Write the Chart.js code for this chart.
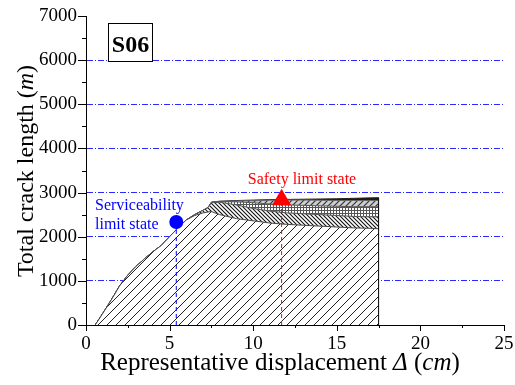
<!DOCTYPE html>
<html>
<head>
<meta charset="utf-8">
<script src="https://cdn.jsdelivr.net/npm/chart.js@4"></script>
<style>
  html, body { margin: 0; padding: 0; background: #fff; }
  canvas { display: block; }
</style>
</head>
<body>
<canvas id="c" width="515" height="385"></canvas>
<script>
// displacement (cm) shared by every layer
const dispX = [0.55, 1, 1.5, 2, 2.5, 3, 3.5, 4, 4.5, 5, 5.5, 6, 6.5, 7, 7.3, 7.5, 8, 9, 10, 11, 12, 13, 14, 15, 16, 17, 17.5];

// cumulative crack length (m), bottom layer first
const layer1 = [0, 260, 560, 880, 1130, 1330, 1500, 1660, 1800, 2000, 2200, 2380, 2480, 2540, 2560, 2570, 2500, 2410, 2360, 2310, 2280, 2260, 2240, 2220, 2200, 2190, 2180];
const layer2 = [0, 260, 560, 880, 1130, 1330, 1500, 1660, 1800, 2000, 2200, 2380, 2500, 2600, 2660, 2770, 2780, 2720, 2640, 2580, 2540, 2520, 2500, 2480, 2460, 2450, 2450];
const layer3 = [0, 260, 560, 880, 1130, 1330, 1500, 1660, 1800, 2000, 2200, 2380, 2500, 2600, 2660, 2775, 2795, 2790, 2770, 2740, 2720, 2710, 2700, 2690, 2680, 2680, 2680];
const layer4 = [0, 260, 560, 880, 1130, 1330, 1500, 1660, 1800, 2000, 2200, 2380, 2500, 2600, 2660, 2780, 2800, 2810, 2815, 2825, 2830, 2830, 2825, 2820, 2820, 2820, 2820];
const layer5 = [0, 260, 560, 880, 1130, 1330, 1500, 1660, 1800, 2000, 2200, 2380, 2500, 2600, 2660, 2785, 2805, 2820, 2830, 2840, 2845, 2850, 2855, 2860, 2870, 2880, 2885];

// limit states
const serviceability = { x: 5.4, y: 2335 };
const safety = { x: 11.7, y: 2840 };

const yTicks = [0, 1000, 2000, 3000, 4000, 5000, 6000, 7000];
const xTicks = [0, 5, 10, 15, 20, 25];

const serif = "'Liberation Serif', 'Times New Roman', serif";
const ctx = document.getElementById('c').getContext('2d');

function hatch(size, bg, fg, lw, draw) {
  const c = document.createElement('canvas');
  c.width = c.height = size;
  const g = c.getContext('2d');
  g.fillStyle = bg;
  g.fillRect(0, 0, size, size);
  g.strokeStyle = fg;
  g.fillStyle = fg;
  g.lineWidth = lw;
  g.beginPath();
  draw(g, size);
  g.stroke();
  return ctx.createPattern(c, 'repeat');
}
const fwd = (g, s) => {
  g.moveTo(0, s); g.lineTo(s, 0);
  g.moveTo(-1, 1); g.lineTo(1, -1);
  g.moveTo(s - 1, s + 1); g.lineTo(s + 1, s - 1);
};
const back = (g, s) => {
  g.moveTo(0, 0); g.lineTo(s, s);
  g.moveTo(s - 1, -1); g.lineTo(s + 1, 1);
  g.moveTo(-1, s - 1); g.lineTo(1, s + 1);
};
const grid = (g, s) => { g.fillRect(0, 0, s, 1); g.fillRect(0, 0, 1, s); };

const patA = hatch(9, '#fff', '#222', 1, fwd);
const patB = hatch(4, '#fff', '#111', 1.1, back);
const patC = hatch(3, '#fff', '#555', 1, grid);
const patD = hatch(6, '#cfcfcf', '#333', 1.2, fwd);
const patE = '#1a1a1a';

const pts = (ys) => dispX.map((x, i) => ({ x: x, y: ys[i] }));

function layer(ys, fill, bg, border) {
  return {
    data: pts(ys), fill: fill, backgroundColor: bg,
    borderColor: border, borderWidth: 1, pointRadius: 0, tension: 0, order: 10
  };
}

const last = dispX.length - 1;

const datasets = [
  layer(layer1, 'origin', patA, '#444'),
  layer(layer2, '-1', patB, '#555'),
  layer(layer3, '-1', patC, '#555'),
  layer(layer4, '-1', patD, '#666'),
  layer(layer5, '-1', patE, '#222'),
  { // closing edge at the last displacement
    data: [{ x: dispX[last], y: 0 }, { x: dispX[last], y: layer5[last] }],
    borderColor: '#000', borderWidth: 1, pointRadius: 0, fill: false, order: 5
  },
  {
    data: [{ x: serviceability.x, y: 0 }, serviceability],
    borderColor: '#0000ff', borderWidth: 1, borderDash: [4, 3], pointRadius: 0, fill: false, order: 2
  },
  {
    data: [{ x: safety.x, y: 0 }, safety],
    borderColor: '#ff0000', borderWidth: 1, borderDash: [4, 3], pointRadius: 0, fill: false, order: 2
  },
  {
    data: [serviceability], showLine: false, pointStyle: 'circle', pointRadius: 7,
    backgroundColor: '#0000ff', borderColor: '#0000ff', borderWidth: 0, order: 0
  },
  {
    data: [safety], showLine: false, pointStyle: 'triangle', pointRadius: 11,
    backgroundColor: '#ff0000', borderColor: '#ff0000', borderWidth: 0, order: 0
  }
];

function richText(c, parts, x, y, size) {
  let w = 0;
  parts.forEach(p => { c.font = (p[1] ? 'italic ' : '') + size + 'px ' + serif; w += c.measureText(p[0]).width; });
  let cx = x - w / 2;
  c.textAlign = 'left';
  parts.forEach(p => {
    c.font = (p[1] ? 'italic ' : '') + size + 'px ' + serif;
    c.fillText(p[0], cx, y);
    cx += c.measureText(p[0]).width;
  });
}

const decor = {
  id: 'decor',
  afterDraw(chart) {
    const c = chart.ctx;
    const { x, y } = chart.scales;
    const a = chart.chartArea;
    c.save();
    c.strokeStyle = '#000';
    c.lineWidth = 1;
    c.beginPath();
    for (let v = 0; v <= 7000; v += 500) {
      const py = Math.round(y.getPixelForValue(v)) + 0.5;
      const len = yTicks.includes(v) ? 8 : 4;
      c.moveTo(a.left - len, py); c.lineTo(a.left, py);
    }
    for (let v = 0; v <= 25; v += 2.5) {
      const px = Math.round(x.getPixelForValue(v)) + 0.5;
      const len = xTicks.includes(v) ? 6 : 3;
      c.moveTo(px, a.bottom); c.lineTo(px, a.bottom + len);
    }
    c.stroke();

    // S06 box
    c.fillStyle = '#fff';
    c.fillRect(108, 23, 44, 38);
    c.strokeRect(108.5, 23.5, 44, 38);
    c.fillStyle = '#000';
    c.font = 'bold 24px ' + serif;
    c.textAlign = 'center';
    c.textBaseline = 'alphabetic';
    c.fillText('S06', 130.5, 52);

    // limit state labels
    c.font = '16px ' + serif;
    c.fillStyle = '#0000ff';
    c.textAlign = 'left';
    c.fillText('Serviceability', 95, 210);
    c.fillText('limit state', 95, 229);
    c.fillStyle = '#ff0000';
    c.textAlign = 'center';
    c.fillText('Safety limit state', 302, 184);

    // axis titles
    c.fillStyle = '#000';
    richText(c, [['Representative displacement ', false], ['\u0394', true], [' (', false], ['cm', true], [')', false]], 280, 370, 25);
    c.translate(33, 171);
    c.rotate(-Math.PI / 2);
    richText(c, [['Total crack length (', false], ['m', true], [')', false]], 0, 0, 24);
    c.restore();
  }
};

new Chart(ctx, {
  type: 'line',
  data: { datasets: datasets },
  options: {
    responsive: false,
    animation: false,
    layout: { padding: { top: 16, right: 2, left: 0, bottom: 0 } },
    plugins: { legend: { display: false }, tooltip: { enabled: false } },
    scales: {
      x: {
        type: 'linear', min: 0, max: 25,
        ticks: {
          stepSize: 2.5, autoSkip: false, maxRotation: 0, padding: 8,
          color: '#000', font: { family: serif, size: 19 },
          callback: (v) => (xTicks.includes(v) ? v : '')
        },
        grid: { display: false, drawTicks: false },
        border: { display: true, color: '#000', width: 1 },
        afterFit(s) { s.height = 60; s.paddingLeft = 0; s.paddingRight = 0; }
      },
      y: {
        min: 0, max: 7000,
        ticks: {
          stepSize: 500, autoSkip: false, padding: 9,
          color: '#000', font: { family: serif, size: 19 },
          callback: (v) => (yTicks.includes(v) ? v : '')
        },
        grid: {
          drawTicks: false, lineWidth: 1,
          color: (c) => (c.tick && c.tick.value >= 1000 && c.tick.value <= 6000 && c.tick.value % 1000 === 0 ? '#2a2aff' : 'rgba(0,0,0,0)')
        },
        border: { display: true, color: '#000', width: 1, dash: [6, 2, 1, 2] },
        afterFit(s) { s.width = 86; s.paddingTop = 0; s.paddingBottom = 0; }
      }
    }
  },
  plugins: [decor]
});
</script>
</body>
</html>
